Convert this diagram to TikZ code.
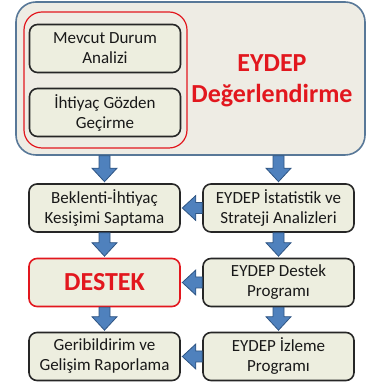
\documentclass[tikz,border=0pt]{standalone}
\usepackage{fontspec}
\setmainfont{Carlito}
\usetikzlibrary{calc}
\definecolor{boxfill}{HTML}{EDEEDF}
\definecolor{outerfill}{HTML}{EEECE4}
\definecolor{outerline}{HTML}{587898}
\definecolor{redline}{HTML}{E2171E}
\definecolor{arrowfill}{HTML}{4F81BD}
\definecolor{arrowline}{HTML}{2F5583}
\definecolor{boxline}{HTML}{262626}
\tikzset{
  stepbox/.style={draw=boxline, fill=boxfill, line width=1.6pt, rounded corners=8pt,
    minimum width=151pt, minimum height=48pt, align=center, inner sep=0pt,
    font=\fontsize{17}{20}\selectfont, text=black!90},
  redtext/.style={text=redline, font=\fontsize{26}{31}\selectfont\bfseries, align=center},
  blockarrow/.style={fill=arrowfill, draw=arrowline, line width=0.8pt,
    to path={let \p1=(\tikztostart), \p2=(\tikztotarget),
      \n1={atan2(\y2-\y1,\x2-\x1)}, \n2={veclen(\x2-\x1,\y2-\y1)} in
      [shift={(\p1)}, rotate=\n1] (0,-5.5) -- (\n2-15,-5.5) -- (\n2-15,-12.5) -- (\n2-1.5,0)
      -- (\n2-15,12.5) -- (\n2-15,5.5) -- (0,5.5) -- cycle}}
}
\begin{document}
\begin{tikzpicture}[x=1pt,y=1pt]
\useasboundingbox (0,0) rectangle (367,387);
% outer container
\node[draw=outerline, fill=outerfill, line width=1.6pt, rounded corners=20pt,
  minimum width=349pt, minimum height=153pt, inner sep=0pt] (outer) at (190.5,308.5) {};
\node[draw=redline, line width=1.2pt, rounded corners=18pt,
  minimum width=163pt, minimum height=136pt, inner sep=0pt] (redgrp) at (105.5,307) {};
\node[stepbox] (mev) at (105,338.5) {Mevcut Durum\\Analizi};
\node[stepbox] (iht) at (105,274.5) {İhtiyaç Gözden\\Geçirme};
\node[redtext] (title) at (272,306) {EYDEP\\Değerlendirme};
% left column
\node[stepbox] (bek) at (104.5,179) {Beklenti-İhtiyaç\\Kesişimi Saptama};
\node[stepbox, draw=redline, text=redline, font=\fontsize{26}{30}\selectfont\bfseries] (destek) at (104.5,104.5) {DESTEK};
\node[stepbox] (geri) at (104.5,30.5) {Geribildirim ve\\Gelişim Raporlama};
% right column
\node[stepbox] (ist) at (278.5,179) {EYDEP İstatistik ve\\Strateji Analizleri};
\node[stepbox] (prog) at (278.5,104.5) {EYDEP Destek\\Programı};
\node[stepbox] (izl) at (278.5,30.5) {EYDEP İzleme\\Programı};
% arrows
\draw[blockarrow] (outer.south -| bek.north) to (bek.north);
\draw[blockarrow] (outer.south -| ist.north) to (ist.north);
\draw[blockarrow] (bek.south) to (destek.north);
\draw[blockarrow] (destek.south) to (geri.north);
\draw[blockarrow] (ist.south) to (prog.north);
\draw[blockarrow] (prog.south) to (izl.north);
\draw[blockarrow] (ist.west) to (bek.east);
\draw[blockarrow] (prog.west) to (destek.east);
\draw[blockarrow] (izl.west) to (geri.east);
\end{tikzpicture}
\end{document}
